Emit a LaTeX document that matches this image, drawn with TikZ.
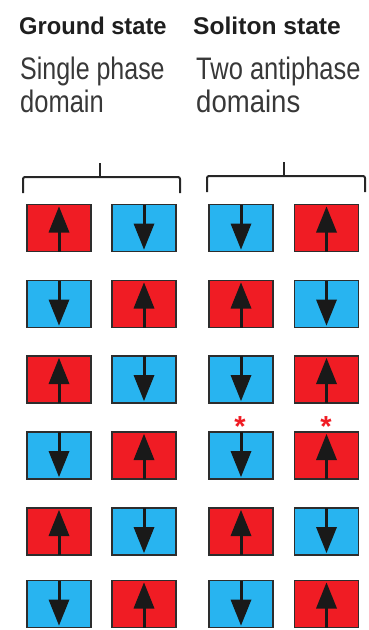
\documentclass[tikz,border=0pt]{standalone}
\usepackage{fontspec}
\usepackage{graphicx}
\setmainfont{Liberation Sans}
\definecolor{spinred}{RGB}{240,28,36}
\definecolor{spinblue}{RGB}{40,180,240}
\definecolor{cellborder}{RGB}{45,45,45}
\definecolor{arrowcol}{RGB}{25,25,25}
\tikzset{
  cell/.style={draw=cellborder, line width=1.5pt, minimum width=64pt, minimum height=47pt, inner sep=0pt, outer sep=0pt},
  upcell/.style={cell, fill=spinred},
  dncell/.style={cell, fill=spinblue},
  shaft/.style={draw=arrowcol, line width=3pt},
  head/.style={fill=arrowcol},
  brack/.style={draw=black!85, line width=2pt, rounded corners=2pt},
  title/.style={anchor=base west, inner sep=0pt, font=\bfseries\fontsize{23}{23}\selectfont, text=black!88},
  sub/.style={anchor=base west, inner sep=0pt, font=\fontsize{25.5}{25.5}\selectfont, text=black!78},
  star/.style={anchor=base, inner sep=0pt, font=\bfseries\fontsize{29}{29}\selectfont, text=spinred},
}
\begin{document}
\begin{tikzpicture}[x=1pt,y=-1pt]
\useasboundingbox (0,0) rectangle (368,630);
% titles
\node[title] (t1) at (19,34) {\scalebox{1.03}[1.05]{Ground state}};
\node[title] (t2) at (193,34) {\scalebox{1.07}[1.05]{Soliton state}};
\node[sub] (s1) at (20,79.5) {\scalebox{0.98}[1.22]{Single phase}};
\node[sub] (s2) at (20,112) {\scalebox{1.0}[1.22]{domain}};
\node[sub] (s3) at (196,79.5) {\scalebox{1.0}[1.22]{Two antiphase}};
\node[sub] (s4) at (196,112) {\scalebox{1.08}[1.22]{domains}};
% brackets
\coordinate (bl1) at (23,193); \coordinate (br1) at (180,193); \coordinate (bt1) at (100,163);
\coordinate (bl2) at (207,192); \coordinate (br2) at (365,192); \coordinate (bt2) at (284,162);
\draw[brack] (bl1) |- (100,177) -| (br1);
\draw[draw=black!85, line width=2pt] (bt1) -- (100,177);
\draw[brack] (bl2) |- (284,176) -| (br2);
\draw[draw=black!85, line width=2pt] (bt2) -- (284,176);
% up cells (red)
\foreach \n/\x/\y in {A1/59/228, D1/326.5/228, B2/144/304, C2/241/304, A3/59/379.5, D3/326.5/379.5,
                      B4/144/455.5, D4/326.5/455.5, A5/59/531.5, C5/241/531.5, B6/144/604, D6/326.5/604}{
  \node[upcell] (\n) at (\x,\y) {};
  \draw[shaft] (\n.south) -- ([yshift=-22pt]\n.north);
  \fill[head] ([yshift=-2pt]\n.north) -- ([shift={(-10.5pt,-28pt)}]\n.north) -- ([shift={(10.5pt,-28pt)}]\n.north) -- cycle;
}
% down cells (blue)
\foreach \n/\x/\y in {B1/144/228, C1/241/228, A2/59/304, D2/326.5/304, B3/144/379.5, C3/241/379.5,
                      A4/59/455.5, C4/241/455.5, B5/144/531.5, D5/326.5/531.5, A6/59/604, C6/241/604}{
  \node[dncell] (\n) at (\x,\y) {};
  \draw[shaft] (\n.north) -- ([yshift=22pt]\n.south);
  \fill[head] ([yshift=2pt]\n.south) -- ([shift={(-10.5pt,28pt)}]\n.south) -- ([shift={(10.5pt,28pt)}]\n.south) -- cycle;
}
% soliton markers
\node[star] (st1) at (240,436) {*};
\node[star] (st2) at (326,436) {*};
\end{tikzpicture}
\end{document}
